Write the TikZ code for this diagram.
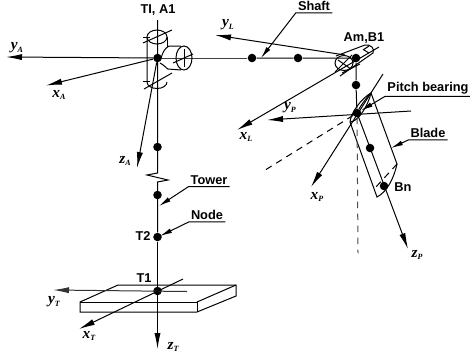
\documentclass[tikz,border=0pt]{standalone}
\usepackage{fontspec}
\setmainfont{Liberation Sans}
\newfontfamily\axisfont{Liberation Serif}
\usetikzlibrary{arrows.meta,positioning}
\tikzset{
  joint/.style={
      circle,
      fill=black,
      inner sep=0pt,
      minimum size=6.4pt,
  },
  tag/.style={
      font=\fontsize{9.6}{10}\selectfont\bfseries,
      inner sep=0pt,
  },
  callout/.style={
      font=\fontsize{9.6}{10}\selectfont\bfseries,
      inner xsep=1.5pt,
      inner ysep=1.5pt,
  },
  axisname/.style={
      font=\axisfont\fontsize{11.5}{12}\selectfont\bfseries\itshape,
      inner sep=0pt,
  },
  axis/.style={
      -{Latex[length=12pt,width=4.6pt]},
      line width=0.75pt,
  },
  leader/.style={
      -{Latex[length=9pt,width=3.6pt]},
      line width=0.75pt,
  },
  body/.style={
      line width=0.75pt,
  },
  dashline/.style={
      line width=0.75pt,
      dash pattern=on 5pt off 4pt,
  },
}
\newcommand{\axislabel}[2]{#1\raisebox{-.35ex}{\fontsize{6}{6}\selectfont #2}}

\begin{document}
\begin{tikzpicture}[x=0.75pt,y=-0.75pt]
  \useasboundingbox (0,0) rectangle (470,358);

  % dashed reference lines of the blade
  \coordinate (PitchDashA) at (262,172);
  \coordinate (PitchDashB) at (358,253);
  \coordinate (BladeTR) at (371,93);
  \coordinate (BladeBR) at (397,164);
  \coordinate (BladeBL) at (377,197);
  \coordinate (BladeTL) at (350,122);

  % base plate
  \coordinate (PlateA) at (118,285);
  \coordinate (PlateB) at (236,285);
  \coordinate (PlateC) at (236,296);
  \coordinate (PlateD) at (197,312);
  \coordinate (PlateE) at (197,302);
  \coordinate (PlateF) at (80,302);
  \coordinate (PlateG) at (80,312);
  \draw[body] (PlateF) -- (PlateA) -- (PlateB) -- (PlateC) -- (PlateD) -- (PlateG) -- cycle;
  \draw[body] (PlateF) -- (PlateE) -- (PlateD);
  \draw[body] (PlateE) -- (PlateB);

  % joints
  \node(A1) [joint] at (157.5,58) {};
  \node(TowerTop) [joint] at (157.5,147) {};
  \node(TowerMid) [joint] at (157.5,195) {};
  \node(T2) [joint] at (157.5,237) {};
  \node(T1) [joint] at (157.5,291) {};
  \node(ShaftA) [joint] at (252,58) {};
  \node(ShaftB) [joint] at (298,58) {};
  \node(B1) [joint] at (356,58) {};
  \node(HubLow) [joint] at (356,85) {};
  \node(Pitch) [joint] at (357,113) {};
  \node(BladeMid) [joint] at (370,148) {};
  \node(Bn) [joint] at (384,186) {};

  % tower with break
  \coordinate (TowerEnd) at (157.5,20);
  \coordinate (BreakA) at (157.5,173);
  \coordinate (BreakB) at (147,175);
  \coordinate (BreakC) at (168,180);
  \coordinate (BreakD) at (157.5,182);
  \coordinate (zTtip) at (157.5,349);
  \draw[body] (TowerEnd) -- (BreakA) -- (BreakB) -- (BreakC) -- (BreakD) -- (T2);
  \draw[axis] (T2) -- (zTtip);

  % shaft
  \draw[body,black!75] (A1) -- (ShaftA);
  \draw[body] (ShaftA) -- (ShaftB) -- (B1) -- (HubLow) -- (Pitch);

  % yaw bearing
  \draw[body] (157,37) ellipse [x radius=10, y radius=7];
  \draw[body] (147,37) -- (147,82) arc[start angle=180,end angle=360,x radius=10,y radius=-6.5];
  \draw[body] (167,37) -- (167,47);
  \draw[body] (143,43) -- (172,30);
  \draw[body] (143,37) -- (150,37);
  \draw[body] (143,81) -- (150,81);
  \draw[body] (144,89) -- (172,73);
  \draw[body] (161,59) .. controls (162,53) and (165,48) .. (169,46) -- (181,46);
  \draw[body] (160,63) .. controls (164,65) and (166,68) .. (168,69) -- (181,70);
  \draw[body] (184,58) ellipse [x radius=8, y radius=12];
  \draw[body] (184,49) -- (184,67);
  \draw[body] (173,63) -- (193,54);

  % hub
  \draw[body] (344,63) ellipse [x radius=9, y radius=7.5];
  \draw[body] (336,56) -- (365,45) .. controls (371,44) and (375,49) .. (373,53) -- (340,76);
  \draw[body] (335,72) -- (352,55);
  \draw[body] (338,60) -- (351,69);
  \draw[body] (342,73) -- (360,64);
  \draw[body] (363,50) -- (369,46);
  \draw[body] (364,50) -- (369,53);

  % blade
  \draw[body] (BladeTL) -- (BladeBL) .. controls (387,192) and (394,178) .. (BladeBR) -- (BladeTR);
  \draw[dashline] (BladeBR) -- (375,188);
  \draw[body] (BladeTL) .. controls (351,112) and (362,98) .. (BladeTR);
  \draw[body] (BladeTL) .. controls (358,122) and (368,106) .. (BladeTR);
  \draw[body] (Pitch) .. controls (360,107) and (366,98) .. (BladeTR);
  \draw[dashline] (Pitch) -- (PitchDashA);
  \draw[dashline,black!70] (Pitch) -- (PitchDashB);

  % axes
  \coordinate (yAtip) at (6,57);
  \coordinate (xAtip) at (46,85.5);
  \coordinate (zAtip) at (137,168);
  \draw[axis] (A1) -- (yAtip);
  \draw[axis] (A1) -- (xAtip);
  \draw[axis] (A1) -- (zAtip);

  \coordinate (yLstart) at (345,55);
  \coordinate (yLtip) at (215,35);
  \coordinate (xLstart) at (379,47);
  \coordinate (xLtip) at (237,130);
  \draw[axis] (yLstart) -- (yLtip);
  \draw[axis] (xLstart) -- (xLtip);

  \coordinate (yPstart) at (411,111);
  \coordinate (yPtip) at (267,120);
  \coordinate (xPstart) at (383,74);
  \coordinate (xPtip) at (311,187);
  \coordinate (zPtip) at (408,249);
  \draw[axis] (yPstart) -- (yPtip);
  \draw[axis] (xPstart) -- (xPtip);
  \draw[axis] (Pitch) -- (zPtip);

  \coordinate (yTstart) at (187,291.5);
  \coordinate (yTtip) at (53,290);
  \coordinate (xTstart) at (183,279);
  \coordinate (xTtip) at (79,329);
  \draw[axis,black!80] (yTstart) -- (yTtip);
  \draw[axis] (xTstart) -- (xTtip);

  % texts
  \node(TlA1) [tag] at (158,10) {TI, A1};
  \node(AmB1) [tag] at (364,38) {Am,B1};
  \node(BnText) [tag] at (403,187) {Bn};
  \node(T2Text) [tag] at (143,236) {T2};
  \node(T1Text) [tag] at (144,278) {T1};

  \node(yA) [axisname] at (17,48) {\axislabel{y}{A}};
  \node(xA) [axisname] at (59,95) {\axislabel{x}{A}};
  \node(zA) [axisname] at (125,161) {\axislabel{z}{A}};
  \node(yL) [axisname] at (228,25) {\axislabel{y}{L}};
  \node(xL) [axisname] at (246,137) {\axislabel{x}{L}};
  \node(yP) [axisname] at (290,108) {\axislabel{y}{P}};
  \node(xP) [axisname] at (317,197) {\axislabel{x}{P}};
  \node(zP) [axisname] at (417,255) {\axislabel{z}{P}};
  \node(yT) [axisname] at (54,302) {\axislabel{y}{T}};
  \node(xT) [axisname] at (89,336) {\axislabel{x}{T}};
  \node(zT) [axisname] at (173,347) {\axislabel{z}{T}};

  % callouts
  \node(Shaft) [callout] at (314,6) {Shaft};
  \node(PitchBearing) [callout] at (428,88) {Pitch bearing};
  \node(Blade) [callout] at (428,133) {Blade};
  \node(Tower) [callout] at (209,180) {Tower};
  \node(Node) [callout] at (207,215) {Node};

  \coordinate (ShaftTip) at (261,58);
  \coordinate (TowerTip) at (159,206);
  \coordinate (NodeTip) at (160,236);
  \coordinate (BladeTip) at (391,148);
  \draw[leader] (Shaft.south east) -- (Shaft.south west) -- (ShaftTip);
  \draw[leader] (Tower.south east) -- (Tower.south west) -- (TowerTip);
  \draw[leader] (Node.south east) -- (Node.south west) -- (NodeTip);
  \draw[leader] (Blade.south east) -- (Blade.south west) -- (BladeTip);
  \draw[leader] (PitchBearing.south east) -- (PitchBearing.south west) -- (Pitch);
\end{tikzpicture}
\end{document}
